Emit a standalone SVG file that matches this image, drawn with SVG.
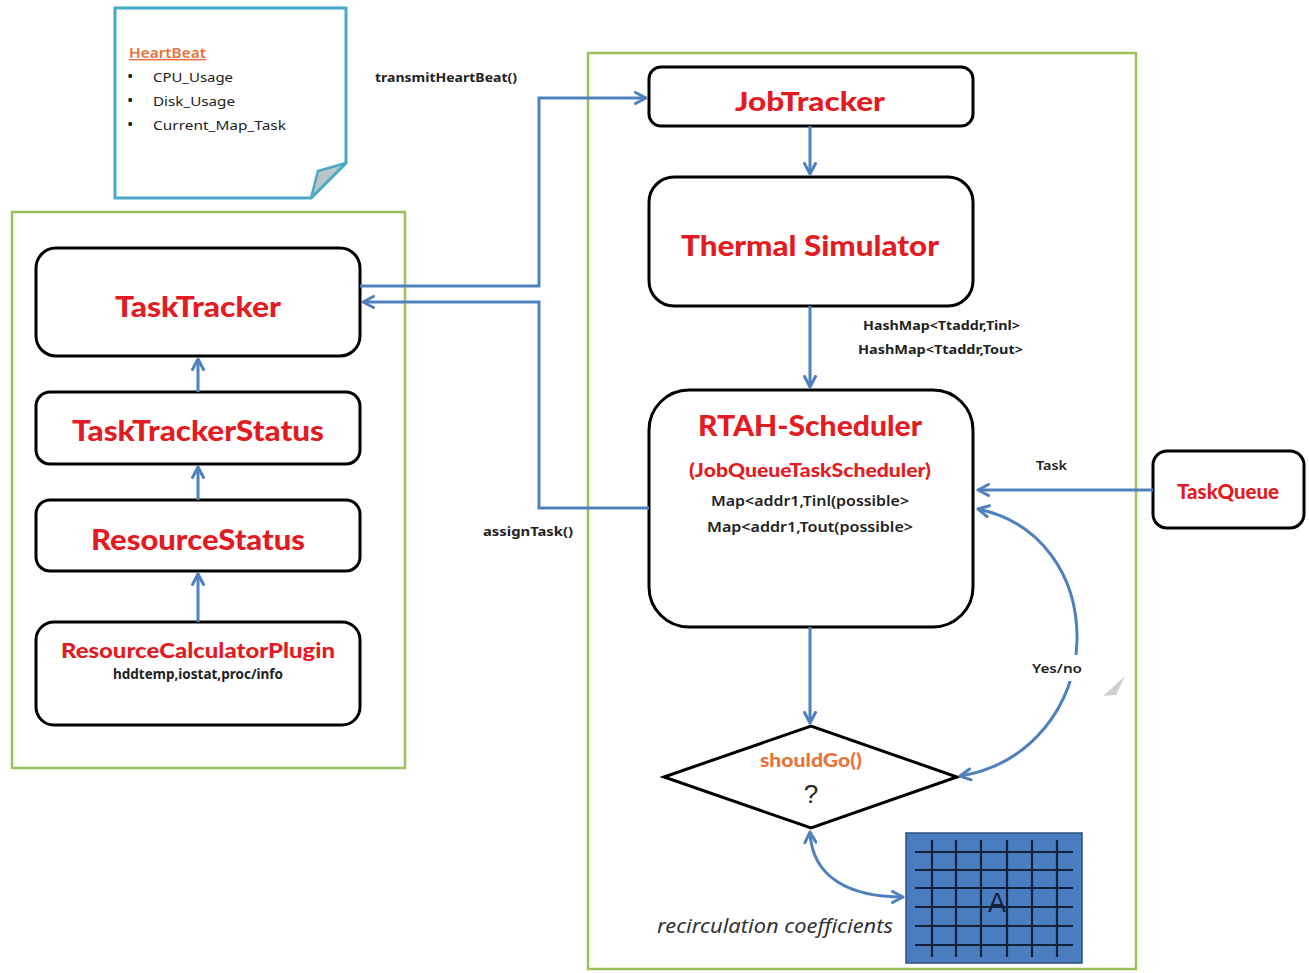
<svg xmlns="http://www.w3.org/2000/svg" width="1309" height="973" viewBox="0 0 1309 973">
  <style>
    .box { fill: #ffffff; stroke: #000000; stroke-width: 3; }
    .group { fill: none; stroke: #9bc25a; stroke-width: 2.5; }
    .title { font-family: Lato, "Liberation Sans", sans-serif; font-weight: 900; fill: #e31b23; text-anchor: middle; }
    .small { font-family: "Noto Sans", "Liberation Sans", sans-serif; fill: #222222; }
    .conn { fill: none; stroke: #4f81bd; stroke-width: 3; }
    .grid line { stroke: #14213a; stroke-width: 2.2; }
  </style>
  <defs>
    <marker id="arrow" viewBox="0 0 14 14" refX="12" refY="7" markerWidth="14" markerHeight="14" markerUnits="userSpaceOnUse" orient="auto-start-reverse">
      <path d="M1.5,1.5 L12,7 L1.5,12.5" fill="none" stroke="#4f81bd" stroke-width="3" stroke-linecap="round" stroke-linejoin="round"/>
    </marker>
  </defs>

  <rect width="1309" height="973" fill="#ffffff"/>

  <!-- containers -->
  <rect class="group" x="12" y="212" width="393" height="556"/>
  <rect class="group" x="588" y="53" width="548" height="916"/>

  <!-- heartbeat note -->
  <g id="heartbeat-note">
    <path d="M115,8 L346,8 L346,163 L311,198 L115,198 Z" fill="#ffffff" stroke="#4aa8c8" stroke-width="3"/>
    <path d="M346,163 L318,171 L311,198 Z" fill="#b9c5c6" stroke="#4aa8c8" stroke-width="2.5" stroke-linejoin="round"/>
    <text x="129" y="58" font-family="'Noto Sans', 'Liberation Sans', sans-serif" font-size="14" font-weight="600" fill="#e8743b" text-decoration="underline" textLength="77" lengthAdjust="spacingAndGlyphs">HeartBeat</text>
    <g class="small" font-size="13">
      <text x="127" y="82" font-size="17">•</text>
      <text x="153" y="82" textLength="80" lengthAdjust="spacingAndGlyphs">CPU_Usage</text>
      <text x="127" y="106" font-size="17">•</text>
      <text x="153" y="106" textLength="82" lengthAdjust="spacingAndGlyphs">Disk_Usage</text>
      <text x="127" y="130" font-size="17">•</text>
      <text x="153" y="130" textLength="133" lengthAdjust="spacingAndGlyphs">Current_Map_Task</text>
    </g>
  </g>

  <!-- left column -->
  <g id="tasktracker">
    <rect class="box" x="36" y="248" width="324" height="108" rx="20"/>
    <text class="title" x="198" y="317" font-size="28" textLength="166" lengthAdjust="spacingAndGlyphs">TaskTracker</text>
  </g>
  <g id="tasktrackerstatus">
    <rect class="box" x="36" y="392" width="324" height="72" rx="14"/>
    <text class="title" x="198" y="441" font-size="28" textLength="252" lengthAdjust="spacingAndGlyphs">TaskTrackerStatus</text>
  </g>
  <g id="resourcestatus">
    <rect class="box" x="36" y="500" width="324" height="71" rx="14"/>
    <text class="title" x="198" y="550" font-size="28" textLength="214" lengthAdjust="spacingAndGlyphs">ResourceStatus</text>
  </g>
  <g id="resourcecalculatorplugin">
    <rect class="box" x="36" y="622" width="324" height="103" rx="18"/>
    <text class="title" x="198" y="658" font-size="21" textLength="274" lengthAdjust="spacingAndGlyphs">ResourceCalculatorPlugin</text>
    <text class="small" x="198" y="679" font-size="14" font-weight="bold" text-anchor="middle" textLength="170" lengthAdjust="spacingAndGlyphs">hddtemp,iostat,proc/info</text>
  </g>

  <!-- right column -->
  <g id="jobtracker">
    <rect class="box" x="649" y="67" width="324" height="59" rx="12"/>
    <text class="title" x="810" y="111" font-size="26" textLength="150" lengthAdjust="spacingAndGlyphs">JobTracker</text>
  </g>
  <g id="thermal-simulator">
    <rect class="box" x="649" y="177" width="324" height="129" rx="25"/>
    <text class="title" x="810" y="256" font-size="28" textLength="258" lengthAdjust="spacingAndGlyphs">Thermal Simulator</text>
  </g>
  <g id="rtah-scheduler">
    <rect class="box" x="649" y="390" width="324" height="237" rx="40"/>
    <text class="title" x="810" y="436" font-size="28" textLength="224" lengthAdjust="spacingAndGlyphs">RTAH-Scheduler</text>
    <text class="title" x="810" y="477" font-size="18" textLength="242" lengthAdjust="spacingAndGlyphs">(JobQueueTaskScheduler)</text>
    <text class="small" x="810" y="506" font-size="14" font-weight="600" text-anchor="middle" textLength="198" lengthAdjust="spacingAndGlyphs">Map&lt;addr1,Tinl(possible&gt;</text>
    <text class="small" x="810" y="532" font-size="14" font-weight="600" text-anchor="middle" textLength="206" lengthAdjust="spacingAndGlyphs">Map&lt;addr1,Tout(possible&gt;</text>
  </g>
  <g id="taskqueue">
    <rect class="box" x="1153" y="451" width="151" height="77" rx="14"/>
    <text class="title" x="1228" y="499" font-size="20" textLength="102" lengthAdjust="spacingAndGlyphs">TaskQueue</text>
  </g>
  <g id="shouldgo">
    <polygon points="664,777 811,726 957,777 811,828" fill="#ffffff" stroke="#000000" stroke-width="3" stroke-linejoin="miter"/>
    <text x="811" y="767" font-family="Lato, 'Liberation Sans', sans-serif" font-weight="900" font-size="18" fill="#e8743b" text-anchor="middle" textLength="102" lengthAdjust="spacingAndGlyphs">shouldGo()</text>
    <text x="811" y="803" font-family="'Liberation Sans', sans-serif" font-size="26" fill="#222222" text-anchor="middle">?</text>
  </g>
  <g id="recirculation-matrix">
    <rect x="906" y="833" width="176" height="130" fill="#4a7cc0" stroke="#2d4f80" stroke-width="1.5"/>
    <g class="grid">
      <line x1="915" y1="852" x2="1073" y2="852"/>
      <line x1="915" y1="870" x2="1073" y2="870"/>
      <line x1="915" y1="888" x2="1073" y2="888"/>
      <line x1="915" y1="907" x2="1073" y2="907"/>
      <line x1="915" y1="926" x2="1073" y2="926"/>
      <line x1="915" y1="945" x2="1073" y2="945"/>
      <line x1="932" y1="840" x2="932" y2="957"/>
      <line x1="956" y1="840" x2="956" y2="957"/>
      <line x1="981" y1="840" x2="981" y2="957"/>
      <line x1="1007" y1="840" x2="1007" y2="957"/>
      <line x1="1032" y1="840" x2="1032" y2="957"/>
      <line x1="1057" y1="840" x2="1057" y2="957"/>
    </g>
    <text x="997" y="912" font-family="'Liberation Sans', sans-serif" font-size="27" fill="#14213a" text-anchor="middle">A</text>
  </g>
  <text x="657" y="933" font-family="'Noto Sans', 'Liberation Sans', sans-serif" font-style="italic" font-size="20" fill="#333333" textLength="236" lengthAdjust="spacingAndGlyphs">recirculation coefficients</text>

  <!-- connectors -->
  <g id="connectors">
    <path class="conn" d="M360,286 L539,286 L539,98 L646,98" marker-end="url(#arrow)"/>
    <path class="conn" d="M649,508 L539,508 L539,302 L363,302" marker-end="url(#arrow)"/>
    <path class="conn" d="M810,126 L810,174" marker-end="url(#arrow)"/>
    <path class="conn" d="M810,306 L810,387" marker-end="url(#arrow)"/>
    <path class="conn" d="M198,392 L198,359" marker-end="url(#arrow)"/>
    <path class="conn" d="M198,500 L198,467" marker-end="url(#arrow)"/>
    <path class="conn" d="M198,622 L198,574" marker-end="url(#arrow)"/>
    <path class="conn" d="M1153,490 L978,490" marker-end="url(#arrow)"/>
    <path class="conn" d="M810,627 L810,723" marker-end="url(#arrow)"/>
    <path class="conn" d="M978,509 C1040,522 1078,575 1077,640 C1076,705 1030,765 960,776" marker-start="url(#arrow)" marker-end="url(#arrow)"/>
    <path class="conn" d="M810,832 C812,878 850,897 903,897" marker-start="url(#arrow)" marker-end="url(#arrow)"/>
  </g>

  <!-- connector labels -->
  <g class="small" font-size="13">
    <text x="375" y="82" font-weight="bold" textLength="142" lengthAdjust="spacingAndGlyphs">transmitHeartBeat()</text>
    <text x="483" y="536" font-weight="bold" textLength="90" lengthAdjust="spacingAndGlyphs">assignTask()</text>
    <text x="863" y="330" font-weight="bold" textLength="157" lengthAdjust="spacingAndGlyphs">HashMap&lt;Ttaddr,Tinl&gt;</text>
    <text x="858" y="354" font-weight="bold" textLength="165" lengthAdjust="spacingAndGlyphs">HashMap&lt;Ttaddr,Tout&gt;</text>
    <text x="1036" y="470" font-weight="600" textLength="31" lengthAdjust="spacingAndGlyphs">Task</text>
    <rect x="1028" y="655" width="58" height="26" fill="#ffffff"/>
    <text x="1032" y="673" font-weight="600" textLength="50" lengthAdjust="spacingAndGlyphs">Yes/no</text>
  </g>
  <polygon points="1103,696 1125,676 1116,695" fill="#cfcfcf"/>
</svg>
